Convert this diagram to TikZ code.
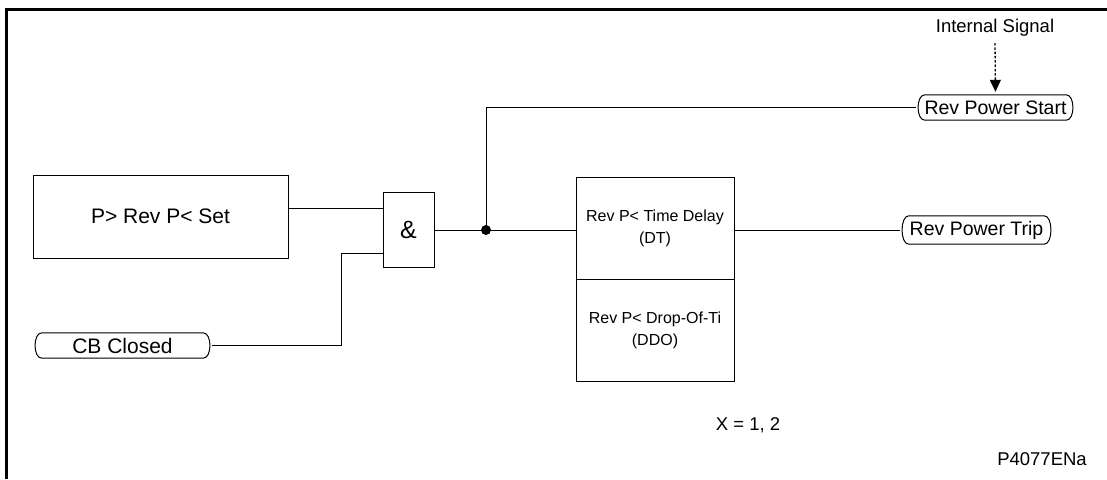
\documentclass[tikz,border=0pt]{standalone}
\usepackage{fontspec}
\setmainfont{Liberation Sans}
\usetikzlibrary{arrows.meta,calc}
\newcommand{\fs}[1]{\fontsize{#1}{#1}\selectfont}
\newcommand{\sigbox}[1]{\draw[wire] ($(#1.north west)+(9,0)$) -- ($(#1.north east)+(-9,0)$) .. controls (#1.north east) and (#1.south east) .. ($(#1.south east)+(-9,0)$) -- ($(#1.south west)+(9,0)$) .. controls (#1.south west) and (#1.north west) .. cycle;}
\begin{document}
\begin{tikzpicture}[x=1pt,y=-1pt,
  wire/.style={line width=1pt},
  blk/.style={draw,line width=1pt,inner sep=0pt,align=center},
  sig/.style={inner sep=0pt},
  lbl/.style={inner sep=0pt,align=center}]
\useasboundingbox (0,0) rectangle (1107,479);
\draw[line width=3pt] (6.5,479) -- (6.5,9.5) -- (1107,9.5);
% nodes
\node[blk,minimum width=255pt,minimum height=83pt,font=\fs{21}] (set) at (160.5,216.5) {P> Rev P< Set};
\node[sig,minimum width=179pt,minimum height=25pt,font=\fs{21}] (cb) at (122.5,345.5) {CB Closed};
\node[blk,minimum width=51pt,minimum height=75pt,font=\fs{25}] (gate) at (408.5,230) {\&};
\node[blk,minimum width=158pt,minimum height=102pt,font=\fs{16}] (t1) at (655,228) {Rev P< Time Delay\\[6pt](DT)};
\node[blk,minimum width=158pt,minimum height=102pt,font=\fs{16}] (t2) at (655,330) {Rev P< Drop-Of-Ti\\[6pt](DDO)};
\node[sig,minimum width=153pt,minimum height=28pt,font=\fs{19.5}] (trip) at (976.5,230) {Rev Power Trip};
\node[sig,minimum width=159pt,minimum height=25pt,font=\fs{19.5}] (start) at (995.5,107.5) {Rev Power Start};
\node[lbl,font=\fs{18.5}] (isig) at (995,28) {Internal Signal};
\node[lbl,font=\fs{18.5}] (xeq) at (748,425) {X = 1, 2};
\node[lbl,font=\fs{18.5}] (ref) at (1042,459) {P4077ENa};
\sigbox{cb}
\sigbox{trip}
\sigbox{start}
% coordinates
\coordinate (in1) at (383,208);
\coordinate (in2) at (383,253);
\coordinate (bend) at (341,253);
\coordinate (j) at (486,230);
% connectors
\draw[wire] (in1 -| set.east) -- (in1);
\draw[wire] (cb.east) -| (bend) -- (in2);
\draw[wire] (gate.east) -- (gate.east -| t1.west);
\draw[wire] (j) |- (start.west);
\fill (j) circle (5pt);
\draw[wire] (trip.west -| t1.east) -- (trip.west);
\draw[line width=1.3pt,dash pattern=on 2.5pt off 1.8pt,-{Triangle[length=12pt,width=11pt]},shorten >=3pt] (isig.south |- 0,43) -- (start.north);
\end{tikzpicture}
\end{document}
